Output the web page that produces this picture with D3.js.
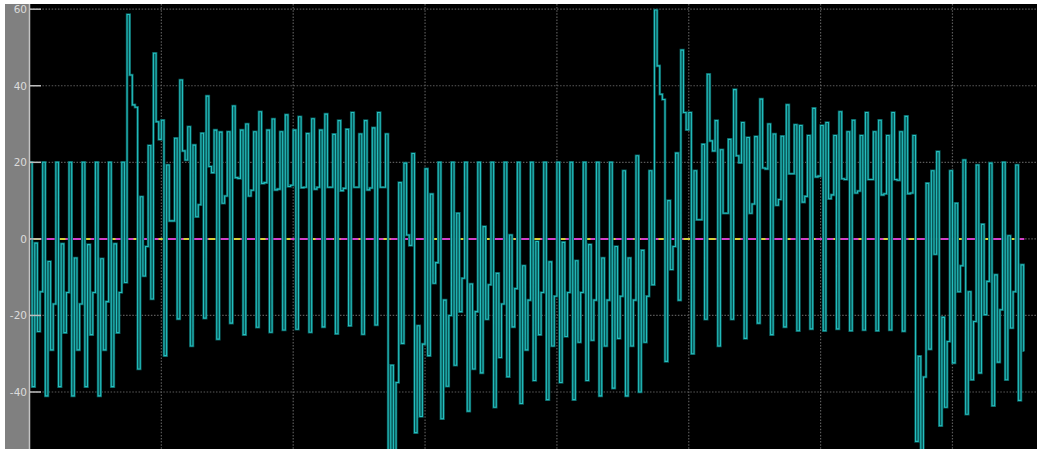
<!DOCTYPE html>
<html>
<head>
<meta charset="utf-8">
<script src="https://d3js.org/d3.v7.min.js"></script>
<style>
  html, body { margin: 0; padding: 0; background: #ffffff; }
  svg { display: block; }
</style>
</head>
<body>
<div id="chart"></div>
<script>
// scope trace, sample time 0.02 s
const sampleTime = 0.02;
const signal = [
  20, -38.6, -1.1, -24.2, -13.8,   20, -41, -5.9, -29, -17,
  20, -38.6, -1.3, -24.5, -14,     20, -41, -5, -29, -17,
  20, -38.6, -1.5, -25, -14,       20, -41, -5.2, -29, -16.4,
  20, -38.6, -1.3, -24.5, -14,     20, -11.4, 58.6, 42.8, 35,
  34.4, -34, 11, -9.7, -2,         24.4, -15.7, 48.5, 30.6, 26,
  31, -30.5, 19.3, 4.7, 4.7,       26.3, -20.9, 41.5, 23, 20.6,
  29.3, -28, 24.5, 5.8, 8.9,       27.6, -20.7, 37.3, 18.9, 17.3,
  28.4, -26.2, 27.9, 9.3, 11.2,    28, -22, 34.7, 16, 15.8,
  28.4, -25, 30, 11.2, 12.7,       28, -23.1, 33.2, 14.5, 14.7,
  28.4, -24.4, 31.3, 12.8, 13,     28, -23.8, 32.4, 13.7, 14,
  28.4, -23.6, 31.9, 13.4, 13.5,   27.5, -24.4, 31.4, 13, 13.5,
  28.4, -23, 32.6, 13.5, 13.5,     27.3, -24.8, 30.9, 12.6, 13.2,
  28.6, -22.7, 33, 13.5, 13.5,     27.4, -24.9, 30.9, 12.8, 13.3,
  29, -22.5, 33, 13.5, 13.5,       27.4, -56, -33, -56, -37.5,
  14.7, -27.3, 19.8, 1, -1.7,      22.3, -50.6, -22.7, -46.4, -27.5,
  18.3, -30.5, 11.7, -11.6, -6.2,  20, -47, -16, -38.5, -20,
  20, -33, 6.7, -19, -10.3,        20, -45, -11.8, -34, -19,
  20, -35, 3.2, -21, -12,          20, -44, -9, -31, -17,
  20, -36, 1, -23, -13,            20, -43, -7, -29, -16,
  20, -37, -0.7, -25, -14,         20, -42, -6, -28, -15,
  20, -37.5, -0.9, -25.5, -14,     20, -42, -5.7, -27, -14,
  20, -37, -1.5, -26.5, -16,       20, -41, -5, -28, -16,
  20, -39, -2, -26, -15,           17.8, -41, -5, -28, -16,
  21.7, -40, -3, -27, -15,         17.8, -12, 59.8, 45.2, 37.8,
  36.4, -32, 10, -8, -2,           22.4, -16, 49.3, 33, 28.5,
  33, -30, 17.8, 5, 5,             24.7, -21, 43, 25.6, 23,
  30.9, -28, 23.3, 6.7, 6.7,       26, -21, 39, 21.7, 19.9,
  30.4, -26, 26.5, 6.7, 9.1,       26.7, -22, 36.5, 18.5, 18.3,
  30, -25, 27.4, 8.8, 10.3,        26.8, -23, 35, 17, 17,
  29.8, -24, 29.6, 9.6, 11.1,      27, -23.5, 34.1, 16.2, 16.4,
  29.6, -24, 30.4, 10.5, 11.5,     27, -23.5, 33.2, 15.7, 15.5,
  28, -24, 31, 12, 12.5,           27, -23.8, 33, 15.5, 15.5,
  28, -24, 31, 11.5, 11.8,         27, -23.8, 33, 15.5, 15.3,
  28, -24.1, 32, 11.8, 12,         27, -52.9, -30.7, -56, -36.1,
  14.5, -28.8, 17.8, -4, 22.8,     -48.8, -20.5, -44, -26.8, 17.8,
  -32.4, 9.3, -13.8, -7, 20.6,     -45.8, -13.8, -36.8, -21.6, 19.3,
  -35, 3.8, -19.8, -11.1, 19.8,    -43.6, -9.4, -32.2, -18.5, 20,
  -36.8, 0.8, -23.3, -13.8, 19.3,  -42.2, -6.8, -29.2
];
const yTicks = [60, 40, 20, 0, -20, -40];
const xGrid = [1, 2, 3, 4, 5, 6, 7];
const endTime = 7.545;

const width = 1037, height = 449;
const plotLeft = 30, plotTop = 4;

const svg = d3.select("#chart").append("svg")
  .attr("width", width)
  .attr("height", height);

const x = d3.scaleLinear().domain([0, 7]).range([29.5, 952.45]);
const y = d3.scaleLinear().domain([-40, 60]).range([392, 9.2]);

// frame: white edge, grey axis strip, black plot
svg.append("rect").attr("width", width).attr("height", height).attr("fill", "#ffffff");
svg.append("rect").attr("x", 5).attr("y", plotTop).attr("width", plotLeft - 5).attr("height", height - plotTop).attr("fill", "#808080");
svg.append("rect").attr("x", plotLeft).attr("y", plotTop).attr("width", width - plotLeft).attr("height", height - plotTop).attr("fill", "#000000");

svg.append("defs").append("clipPath").attr("id", "plot")
  .append("rect").attr("x", plotLeft).attr("y", plotTop)
  .attr("width", width - plotLeft).attr("height", height - plotTop);

const plot = svg.append("g").attr("clip-path", "url(#plot)");

// dotted grid
plot.selectAll(".hgrid").data(yTicks).enter().append("line")
  .attr("x1", plotLeft).attr("x2", width)
  .attr("y1", d => y(d)).attr("y2", d => y(d))
  .attr("stroke", "#5a5a5a").attr("stroke-width", 1.2)
  .attr("stroke-dasharray", "1.5,1.6");
plot.selectAll(".vgrid").data(xGrid).enter().append("line")
  .attr("x1", d => x(d)).attr("x2", d => x(d))
  .attr("y1", plotTop).attr("y2", height)
  .attr("stroke", "#5a5a5a").attr("stroke-width", 1.2)
  .attr("stroke-dasharray", "1.5,1.6");

// zero reference traces
plot.append("line")
  .attr("x1", x(0)).attr("x2", x(endTime))
  .attr("y1", y(0)).attr("y2", y(0))
  .attr("stroke", "#d23ec8").attr("stroke-width", 2);
plot.append("line")
  .attr("x1", x(0)).attr("x2", x(endTime))
  .attr("y1", y(0)).attr("y2", y(0))
  .attr("stroke", "#d8cf3a").attr("stroke-width", 2)
  .attr("stroke-dasharray", "7,18").attr("stroke-dashoffset", -4);

// the signal as a step trace
const pts = signal.map((v, i) => [i * sampleTime, v]);
pts.push([endTime, signal[signal.length - 1]]);

const line = d3.line()
  .x(d => x(d[0]))
  .y(d => y(d[1]))
  .curve(d3.curveStepAfter);

plot.append("path").datum(pts)
  .attr("d", line)
  .attr("fill", "none")
  .attr("stroke", "#0a5858")
  .attr("stroke-width", 2.6)
  .attr("stroke-linejoin", "miter");
plot.append("path").datum(pts)
  .attr("d", line)
  .attr("fill", "none")
  .attr("stroke", "#24bfbf")
  .attr("stroke-width", 1.1)
  .attr("stroke-linejoin", "miter");

// axis line, ticks and labels
svg.append("line")
  .attr("x1", plotLeft - 0.5).attr("x2", plotLeft - 0.5)
  .attr("y1", plotTop).attr("y2", height)
  .attr("stroke", "#c4c4c4").attr("stroke-width", 1.5);
svg.selectAll(".tick").data(yTicks).enter().append("line")
  .attr("x1", plotLeft).attr("x2", 41)
  .attr("y1", d => y(d)).attr("y2", d => y(d))
  .attr("stroke", "#bdbdbd").attr("stroke-width", 1.5);
svg.selectAll(".lab").data(yTicks).enter().append("text")
  .attr("x", 27).attr("y", d => y(d) + 4)
  .attr("text-anchor", "end")
  .attr("font-family", "DejaVu Sans, sans-serif")
  .attr("font-size", 10.5)
  .attr("fill", "#dcdcdc")
  .text(d => d);

// white top strip over the label of 60
svg.append("rect").attr("x", 0).attr("y", 0).attr("width", width).attr("height", plotTop).attr("fill", "#ffffff");
</script>
</body>
</html>
